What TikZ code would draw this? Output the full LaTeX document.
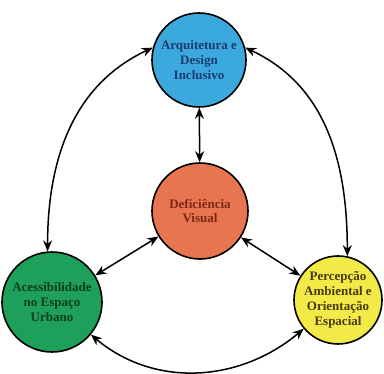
\documentclass[tikz,border=0pt]{standalone}
\usepackage{fontspec}
\setmainfont{Liberation Serif}
\usetikzlibrary{arrows.meta,positioning}
\definecolor{azul}{HTML}{3BA9DE}
\definecolor{azulesc}{HTML}{1B3C6E}
\definecolor{laranja}{HTML}{E87550}
\definecolor{laranjaesc}{HTML}{7A2818}
\definecolor{verde}{HTML}{1FA05A}
\definecolor{verdeesc}{HTML}{0B3F1E}
\definecolor{amarelo}{HTML}{F2EA46}
\definecolor{amareloesc}{HTML}{4A3A12}

\begin{document}
\begin{tikzpicture}[x=1pt,y=1pt,
  tema/.style={circle,draw=black,line width=1.6pt,inner sep=0pt,align=center,
    font=\fontsize{13}{14.8}\selectfont\bfseries},
  seta/.style={{Stealth[length=11pt,width=9pt]}-{Stealth[length=11pt,width=9pt]},line width=1.5pt}]
\useasboundingbox (0,0) rectangle (384,374);
\node[tema,fill=azul,text=azulesc,minimum size=94pt] (arq) at (199,314) {Arquitetura e\\Design\\Inclusivo};
\node[tema,fill=laranja,text=laranjaesc,minimum size=96pt] (def) at ([shift={+(1,-151)}]arq) {Deficiência\\Visual};
\node[tema,fill=verde,text=verdeesc,minimum size=100pt] (ace) at (52,72) {Acessibilidade\\no Espaço\\Urbano};
\node[tema,fill=amarelo,text=amareloesc,minimum size=88pt] (per) at (338,74) {Percepção\\Ambiental e\\Orientação\\Espacial};
\draw[seta] (arq)--(def);
\draw[seta] (def)--(ace);
\draw[seta] (def)--(per);
\draw[seta] (arq.165) to[out=205,in=90] (ace.95);
\draw[seta] (arq.15) to[out=-25,in=90] (per.78);
\draw[seta] (ace.-40) to[out=-40,in=-140] (per.-140);
\end{tikzpicture}
\end{document}
